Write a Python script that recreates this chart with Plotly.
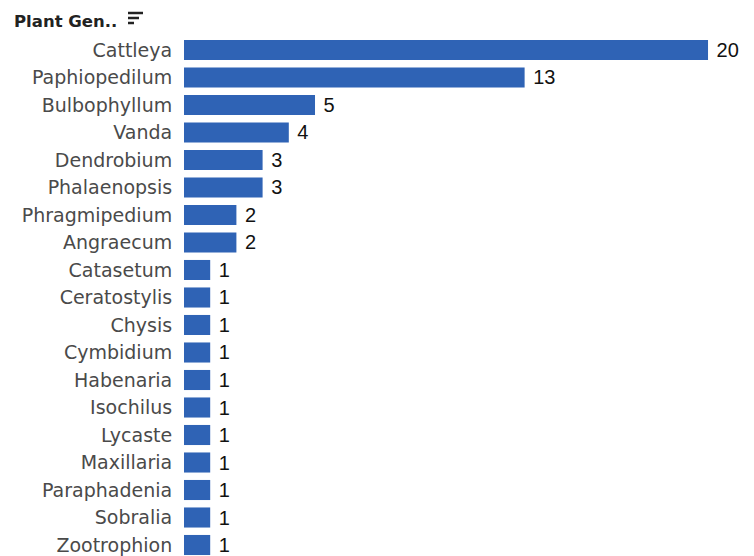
import plotly.graph_objects as go

genera = ["Cattleya", "Paphiopedilum", "Bulbophyllum", "Vanda", "Dendrobium", "Phalaenopsis",
          "Phragmipedium", "Angraecum", "Catasetum", "Ceratostylis", "Chysis", "Cymbidium",
          "Habenaria", "Isochilus", "Lycaste", "Maxillaria", "Paraphadenia", "Sobralia", "Zootrophion"]
counts = [20, 13, 5, 4, 3, 3, 2, 2, 1, 1, 1, 1, 1, 1, 1, 1, 1, 1, 1]

PW = 567
fig = go.Figure(go.Bar(
    x=counts, y=genera, orientation="h",
    marker=dict(color="#2f63b5", line=dict(width=0)),
    width=0.73,
    text=[" " + str(c) for c in counts], textposition="outside",
    constraintext="none",
    textfont=dict(family="Liberation Sans, Arial", size=20, color="#111111"),
    cliponaxis=False,
))

W, H = 754, 556
fig.update_layout(
    width=W, height=H,
    margin=dict(l=184, r=3, t=30, b=0),
    paper_bgcolor="white", plot_bgcolor="white",
    showlegend=False,
    xaxis=dict(range=[0, 21.64], visible=False),
    yaxis=dict(type="category", categoryorder="array", categoryarray=genera,
               range=[18.4, -0.727], showgrid=False, zeroline=False, showline=False,
               ticks="outside", ticklen=7, tickcolor="rgba(0,0,0,0)",
               tickfont=dict(family="DejaVu Sans", size=19, color="#4a4a4a")),
    annotations=[dict(text="<b>Plant Gen..</b>", xref="paper", yref="paper",
                      x=(12 - 184) / PW, y=1 + 9 / 526, xanchor="left", yanchor="middle",
                      showarrow=False,
                      font=dict(family="DejaVu Sans", size=16.5, color="#222222"))],
)
# sort icon (three lines of decreasing length)
x0 = 128
for i, ln in enumerate([15, 11, 6]):
    yy = 13 + i * 5
    fig.add_shape(type="line", xref="paper", yref="paper",
                  x0=(x0 - 184) / PW, x1=(x0 + ln - 184) / PW,
                  y0=1 - (yy - 30) / 526, y1=1 - (yy - 30) / 526,
                  line=dict(color="#222222", width=2.5))

fig.write_html("out.html")
